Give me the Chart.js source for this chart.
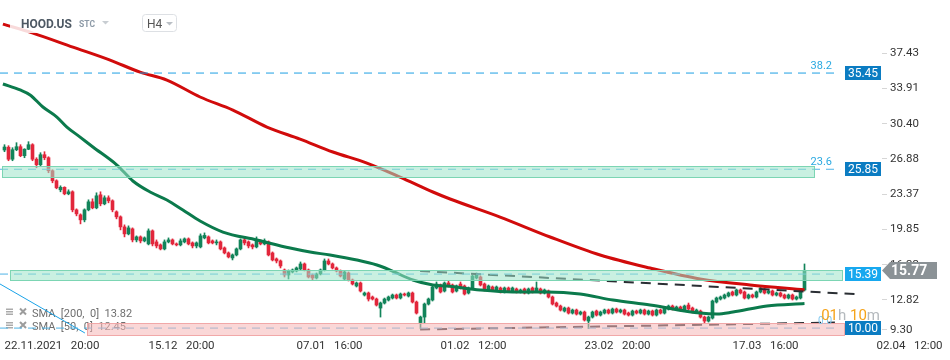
<!DOCTYPE html>
<html><head><meta charset="utf-8">
<script src="https://cdn.jsdelivr.net/npm/chart.js@4.4.1/dist/chart.umd.min.js"></script>
<style>html,body{margin:0;padding:0;background:#fff;}canvas{display:block;}</style>
</head><body>
<canvas id="c" width="950" height="360"></canvas>
<script>
// ---- data (H4 candles, one per index) ----
const opens = [
27.77,28.05,26.85,27.8,28.1,27.2,27.85,28.3,26.85,26.3,
27.3,27.0,25.7,24.7,23.8,24.05,23.4,23.6,21.8,21.3,
20.8,21.8,22.6,22.0,23.3,22.4,23.0,22.7,21.6,21.1,
20.1,19.4,19.9,18.8,19.1,18.7,18.4,19.7,18.6,18.3,
17.9,18.6,18.8,18.4,18.3,18.6,18.9,18.5,18.2,18.1,
19.0,19.1,18.7,18.5,18.6,18.0,17.5,17.0,17.3,17.9,
18.8,18.6,18.3,18.1,18.7,18.4,18.6,17.5,16.9,16.7,
15.8,15.3,15.6,15.7,15.9,16.4,15.8,15.3,15.0,15.4,
15.8,16.7,16.4,16.0,15.7,14.9,15.5,14.8,14.2,14.5,
13.3,13.5,13.1,12.9,12.0,12.5,12.8,13.0,13.3,13.0,
13.4,13.2,13.5,12.6,10.55,11.1,12.4,12.8,14.0,14.3,
13.7,14.5,14.3,13.7,14.4,14.2,13.5,14.0,15.0,15.1,
14.4,13.8,14.1,13.8,14.0,13.6,14.0,13.7,13.9,13.6,
13.9,13.5,14.0,13.7,13.9,13.5,13.7,13.1,12.5,12.2,
11.7,12.0,11.5,11.8,11.4,11.6,10.7,11.1,11.7,11.3,
11.5,11.8,11.5,11.9,11.6,11.8,11.5,11.3,11.7,11.5,
11.8,11.4,11.7,11.3,11.8,11.5,11.9,12.2,11.9,12.1,
11.8,12.3,12.0,11.6,11.7,11.1,10.7,11.0,12.6,12.9,
13.0,13.2,13.6,13.3,13.8,13.6,13.0,13.3,13.1,13.6,
13.9,13.5,13.7,13.3,13.5,13.3,13.0,13.3,12.9,13.0,
13.8];
const highs = [
28.3,28.2,28.0,28.5,28.3,27.9,28.6,28.4,27.0,27.5,
27.6,27.1,25.8,24.8,24.2,24.1,23.8,23.7,21.9,21.4,
21.9,22.8,22.9,23.5,23.6,23.2,23.2,22.8,21.7,21.2,
20.3,20.2,20.0,19.2,19.2,19.1,19.9,19.8,18.8,18.4,
18.8,19.0,18.9,18.5,18.9,19.0,19.0,18.6,18.6,19.4,
19.5,19.2,18.8,18.8,18.7,18.1,17.6,17.4,18.0,18.9,
19.0,18.7,18.4,19.1,18.8,18.9,18.7,17.6,17.0,16.8,
15.9,15.8,15.9,16.1,16.6,16.5,15.9,15.4,15.5,15.9,
16.9,16.9,16.5,16.1,15.8,15.7,15.6,14.9,14.6,14.6,
13.6,13.6,13.2,13.0,12.6,13.0,13.2,13.4,13.4,13.5,
13.5,13.6,13.6,12.7,11.2,12.5,13.0,14.2,14.6,14.4,
14.6,14.7,14.4,14.3,14.6,14.3,14.1,15.3,15.5,15.2,
14.5,14.3,14.2,14.2,14.1,14.1,14.1,14.1,14.0,13.9,
14.0,14.0,14.1,14.6,14.0,13.9,13.8,13.2,12.6,12.3,
12.1,12.1,11.9,11.9,11.7,11.7,11.2,11.7,11.8,11.7,
11.9,11.9,12.0,12.0,11.9,11.9,11.6,11.8,11.8,11.9,
11.9,11.8,11.8,11.9,11.9,12.1,12.3,12.3,12.2,12.2,
12.3,12.5,12.1,11.9,11.8,11.2,11.2,12.8,13.1,13.2,
13.4,13.6,13.7,13.9,13.9,13.7,13.4,13.4,13.7,14.2,
14.0,13.8,13.8,13.6,13.6,13.4,13.4,13.4,13.2,13.9,
16.4];
const lows = [
27.6,26.7,26.7,27.7,27.1,27.0,27.8,26.7,26.0,26.2,
26.8,25.5,24.5,23.9,23.6,23.3,23.3,21.6,21.2,20.4,
20.6,21.7,21.9,21.9,22.2,22.3,22.5,21.6,20.9,19.8,
19.1,19.3,18.6,18.6,18.5,18.6,18.3,18.2,18.0,17.8,
17.8,18.5,18.3,18.2,18.2,18.5,18.3,18.0,18.0,18.0,
18.9,18.4,18.4,18.3,17.8,17.4,17.0,16.8,17.2,17.8,
18.3,18.0,17.9,18.0,18.3,18.3,17.2,16.7,16.5,16.0,
15.1,14.9,15.5,15.6,15.8,15.7,15.0,14.8,14.9,15.3,
15.7,16.3,15.9,15.6,15.1,14.8,14.7,14.3,14.1,13.6,
13.2,12.7,12.8,12.2,11.1,12.4,12.7,12.9,12.9,12.9,
13.2,13.1,12.5,11.4,9.95,10.5,12.3,12.7,13.9,13.5,
13.6,14.1,13.5,13.6,13.9,13.3,13.4,13.9,14.9,14.2,
13.7,13.7,13.7,13.7,13.5,13.5,13.6,13.6,13.5,13.5,
13.4,13.4,13.5,13.6,13.4,13.4,13.0,12.3,12.1,11.7,
11.6,11.4,11.4,11.3,11.3,10.7,9.95,11.0,11.2,11.2,
11.4,11.4,11.4,11.5,11.5,11.3,11.2,11.2,11.4,11.4,
11.3,11.3,11.2,11.2,11.4,11.4,11.8,11.8,11.8,11.7,
11.7,11.8,11.5,11.5,11.0,10.5,10.6,10.9,12.5,12.8,
12.9,13.1,13.2,13.2,13.4,12.9,12.9,13.0,13.0,13.5,
13.4,13.4,13.2,13.2,13.1,12.9,12.9,12.8,12.8,12.9,
13.7];
const closes = [
28.07,26.85,27.8,28.1,27.2,27.85,28.3,26.85,26.3,27.3,
27.0,25.7,24.7,24.0,24.05,23.4,23.6,21.8,21.4,20.8,
21.8,22.6,22.0,23.2,22.4,23.0,22.7,21.8,21.1,20.1,
19.4,20.0,18.8,19.1,18.7,19.0,19.7,18.4,18.2,17.9,
18.6,18.8,18.4,18.3,18.7,18.9,18.4,18.2,18.5,19.2,
19.25,18.5,18.5,18.6,17.9,17.5,17.1,17.3,17.9,18.8,
18.5,18.2,18.1,18.8,18.4,18.7,17.3,16.8,16.7,16.2,
15.3,15.7,15.8,16.0,16.4,15.8,15.1,15.0,15.4,15.8,
16.7,16.4,16.0,15.7,15.2,15.6,14.8,14.4,14.5,13.7,
13.5,12.9,12.9,12.3,12.5,12.9,13.1,13.3,13.0,13.4,
13.3,13.5,12.6,11.5,11.1,12.4,12.9,14.1,14.4,13.6,
14.5,14.2,13.6,14.2,14.0,13.4,14.0,15.2,15.3,14.3,
13.8,14.2,13.8,14.1,13.6,14.0,13.7,14.0,13.6,13.8,
13.5,13.9,13.6,14.0,13.5,13.8,13.1,12.4,12.2,11.8,
12.0,11.5,11.8,11.4,11.6,10.8,11.1,11.6,11.3,11.6,
11.8,11.5,11.9,11.6,11.8,11.4,11.3,11.7,11.5,11.8,
11.4,11.7,11.3,11.8,11.5,12.0,12.2,11.9,12.1,11.8,
12.2,11.9,11.6,11.8,11.1,10.7,11.1,12.7,13.0,13.1,
13.3,13.5,13.3,13.8,13.5,13.0,13.3,13.1,13.6,14.0,
13.5,13.7,13.3,13.5,13.2,13.0,13.3,12.9,13.1,13.8,
15.77];

const sma200Idx = [-0.4,7.1,17.1,26.4,33.9,40.6,48.9,57.1,65.6,73.9,82.1,90.6,98.9,107.1,111.4,123.9,136.4,148.9,161.4,173.9,186.4,200];
const sma200Val = [40.33,39.44,38.04,36.74,35.54,34.75,33.06,31.76,30.06,28.86,27.57,26.47,25.07,23.58,22.88,21.08,19.09,17.29,15.99,14.9,14.3,13.82];
const sma50Idx = [-0.4,3.9,6.4,9.6,13.1,15.6,18.9,22.1,28.1,32.1,36.4,40.6,44.6,48.9,54.6,63.1,71.4,76.4,81.4,88.1,93.1,96.4,102.1,107.1,110.6,118.9,127.1,135.6,143.9,152.1,161.4,173.9,178.1,182.1,190.6,200];
const sma50Val = [34.36,33.76,33.26,32.06,31.06,30.06,29.06,28.07,26.27,24.68,23.58,22.78,21.78,20.68,19.58,18.79,17.99,17.59,17.29,16.79,16.29,15.79,14.8,14.3,14.2,13.8,13.6,13.6,13.4,12.8,12.3,11.5,11.4,11.6,12.2,12.45];

const xTickIdx = [0,36,73,109,145,182,218];
const xTickLabels = ['22.11.2021   20:00','15.12   20:00','07.01   16:00','01.02   12:00','23.02   20:00','17.03   16:00','02.04   12:00'];
const yTickLabels = ['9.30','12.82','16.33','19.85','23.37','26.88','30.40','33.91','37.43'];

const levelVals = [35.45, 25.85, 15.39, 10.00];
const levelFib = ['38.2', '23.6', '', '0.0'];
const bandLo = [null, 24.97, 14.70, 9.20];
const bandHi = [null, 26.17, 15.80, 10.50];
const lastPrice = 15.77;
const legendNames = ['SMA  [200,  0]', 'SMA  [50,  0]'];
const legendVals = ['13.82', '12.45'];
const trendUpIdx = [103.9, 213.4], trendUpVal = [15.69, 13.37];
const trendLoIdx = [103.9, 207.6], trendLoVal = [9.86, 10.55];
const fibLineIdx = [-1.125, 20.1], fibLineVal = [14.4, 9.51];

// ---- styling / layout (not data) ----
const GREEN = '#12845a', RED = '#e2263b';
const levelEnd = 208.9;
const levelColors = ['#1e9fe3', '#4fb4e6', '#4fb4e6', '#4fb4e6'];
const boxColors = ['#0b7cc2', '#0b7cc2', '#17a8ef', '#0b7cc2'];
const bandCfg = [null,
  {from: -0.6, to: 202.6, fill: 'rgba(157,228,200,0.55)', stroke: 'rgba(120,212,176,0.95)'},
  {from: 1.4, to: 209.6, fill: 'rgba(157,228,200,0.55)', stroke: 'rgba(120,212,176,0.95)'},
  {from: 20.6, to: 210.1, fill: 'rgba(246,182,182,0.55)', stroke: 'rgba(240,165,165,0.95)'}];

const idx = opens.map((_, i) => i);
const candleColors = idx.map(i => closes[i] >= opens[i] ? GREEN : RED);
const FONT = 'Roboto';
Chart.defaults.font.family = FONT;

const datasets = [
  {type: 'bar', data: idx.map(i => ({x: i, y: [lows[i], highs[i]]})), backgroundColor: candleColors,
   barThickness: 1, grouped: false, borderWidth: 0, order: 9},
  {type: 'bar', data: idx.map(i => ({x: i, y: [opens[i], closes[i]]})), backgroundColor: candleColors,
   barThickness: 3, minBarLength: 1, grouped: false, borderWidth: 0, order: 8},
  {type: 'line', data: sma200Idx.map((v, k) => ({x: v, y: sma200Val[k]})), borderColor: '#d10b0b', borderWidth: 3,
   pointRadius: 0, cubicInterpolationMode: 'monotone', order: 4},
  {type: 'line', data: sma50Idx.map((v, k) => ({x: v, y: sma50Val[k]})), borderColor: '#0b7a4c', borderWidth: 3,
   pointRadius: 0, cubicInterpolationMode: 'monotone', order: 3},
  {type: 'line', data: trendUpIdx.map((v, k) => ({x: v, y: trendUpVal[k]})), borderColor: '#2a2e33', borderWidth: 2,
   borderDash: [10, 7], pointRadius: 0, order: 2},
  {type: 'line', data: trendLoIdx.map((v, k) => ({x: v, y: trendLoVal[k]})), borderColor: '#2a2e33', borderWidth: 2,
   borderDash: [10, 7], pointRadius: 0, order: 2},
  {type: 'line', data: fibLineIdx.map((v, k) => ({x: v, y: fibLineVal[k]})), borderColor: '#1aa3e8', borderWidth: 1,
   pointRadius: 0, order: 2}
];
levelVals.forEach((v, k) => {
  datasets.push({type: 'line', data: [{x: -1.125, y: v}, {x: levelEnd, y: v}], borderColor: levelColors[k],
    borderWidth: 1, borderDash: [8, 6], pointRadius: 0, order: 1});
});

const overlay = {
  id: 'overlay',
  beforeDatasetsDraw(chart) {
    const ctx = chart.ctx;
    ctx.save();
    const rows = [316.5, 330];
    rows.forEach((by, r) => {
      ctx.fillStyle = '#ababab';
      for (let k = 0; k < 3; k++) ctx.fillRect(6, by - 8 + k * 2.5, 7, 1.5);
      ctx.strokeStyle = '#9c9c9c'; ctx.lineWidth = 2;
      ctx.beginPath(); ctx.moveTo(20, by - 8); ctx.lineTo(26, by - 2); ctx.moveTo(26, by - 8); ctx.lineTo(20, by - 2); ctx.stroke();
      ctx.font = '11px ' + FONT; ctx.fillStyle = '#6e6e6e'; ctx.textBaseline = 'alphabetic'; ctx.textAlign = 'left';
      ctx.fillText(legendNames[r] + '  ' + legendVals[r], 32, by);
    });
    ctx.restore();
  },
  afterDatasetsDraw(chart) {
    const {ctx, chartArea, scales: {x, y}} = chart;
    ctx.save();
    // zones (drawn over the candles, translucent)
    bandCfg.forEach((b, k) => {
      if (!b) return;
      const x1 = Math.round(x.getPixelForValue(b.from)), x2 = Math.round(x.getPixelForValue(b.to));
      const y1 = Math.round(y.getPixelForValue(bandHi[k])), y2 = Math.round(y.getPixelForValue(bandLo[k]));
      ctx.fillStyle = b.fill; ctx.fillRect(x1, y1, x2 - x1, y2 - y1);
      ctx.strokeStyle = b.stroke; ctx.lineWidth = 1; ctx.strokeRect(x1 + 0.5, y1 + 0.5, x2 - x1 - 1, y2 - y1 - 1);
    });
    // header
    ctx.fillStyle = 'rgba(255,255,255,0.85)'; ctx.fillRect(10, 13, 110, 20);
    ctx.textAlign = 'left'; ctx.textBaseline = 'alphabetic';
    ctx.font = 'bold 12px ' + FONT; ctx.fillStyle = '#4d5863'; ctx.fillText('HOOD.US', 21, 27.5);
    ctx.font = 'bold 8.5px ' + FONT; ctx.fillStyle = '#8d9aa7'; ctx.fillText('STC', 79, 27);
    ctx.fillStyle = '#c8cdd2'; ctx.beginPath(); ctx.moveTo(102, 21); ctx.lineTo(109, 21); ctx.lineTo(105.5, 24.5); ctx.fill();
    ctx.fillStyle = '#fff'; ctx.strokeStyle = '#dde0e4'; ctx.lineWidth = 1;
    ctx.beginPath(); ctx.roundRect(142.5, 14.5, 34, 17, 3); ctx.fill(); ctx.stroke();
    ctx.font = '12px ' + FONT; ctx.fillStyle = '#555'; ctx.fillText('H4', 147, 27.5);
    ctx.fillStyle = '#babfc5'; ctx.beginPath(); ctx.moveTo(166, 22); ctx.lineTo(173, 22); ctx.lineTo(169.5, 25.5); ctx.fill();
    // fib texts and price boxes
    const R = chartArea.right;
    levelVals.forEach((v, k) => {
      const py = y.getPixelForValue(v);
      if (levelFib[k]) {
        ctx.font = (k === 3 ? '10px ' : '11px ') + FONT; ctx.fillStyle = k === 3 ? '#7cc6ee' : '#2aa9e1';
        ctx.textAlign = 'right'; ctx.textBaseline = 'alphabetic';
        ctx.fillText(levelFib[k], R - 50, py - 4);
      }
      ctx.fillStyle = boxColors[k]; ctx.fillRect(R - 37, Math.round(py) - 7, 36, 14);
      ctx.font = '12px ' + FONT; ctx.fillStyle = '#fff'; ctx.textAlign = 'center'; ctx.textBaseline = 'middle';
      ctx.fillText(v.toFixed(2), R - 19, Math.round(py) + 0.5);
    });
    // countdown
    const parts = [['01', '#f5a31a'], ['h', '#b4b9bd'], [' 10', '#f5a31a'], ['m', '#b4b9bd']];
    ctx.font = '15px ' + FONT; ctx.textAlign = 'left'; ctx.textBaseline = 'alphabetic';
    let tw = parts.reduce((s, p) => s + ctx.measureText(p[0]).width, 0);
    let cx = R - 2 - tw;
    parts.forEach(p => { ctx.fillStyle = p[1]; ctx.fillText(p[0], cx, 320); cx += ctx.measureText(p[0]).width; });
    // last price marker
    const ly = Math.round(y.getPixelForValue(lastPrice)) + 0.5;
    ctx.fillStyle = '#8b9296';
    ctx.beginPath(); ctx.moveTo(R, ly); ctx.lineTo(R + 8, ly - 8.5); ctx.lineTo(937, ly - 8.5); ctx.lineTo(937, ly + 8.5);
    ctx.lineTo(R + 8, ly + 8.5); ctx.closePath(); ctx.fill();
    ctx.font = 'bold 14px ' + FONT; ctx.fillStyle = '#fff'; ctx.textAlign = 'left'; ctx.textBaseline = 'middle';
    ctx.fillText(lastPrice.toFixed(2), R + 9, ly + 0.5);
    ctx.restore();
  }
};

new Chart(document.getElementById('c'), {
  type: 'bar',
  data: {datasets},
  options: {
    responsive: false, animation: false, devicePixelRatio: 1,
    layout: {padding: 0},
    plugins: {legend: {display: false}, tooltip: {enabled: false}},
    scales: {
      x: {
        type: 'linear', min: -1.125, max: 219.375, offset: false,
        afterBuildTicks: s => { s.ticks = xTickIdx.map(v => ({value: v})); },
        afterFit: s => { s.height = 24; s.paddingLeft = 0; s.paddingRight = 0; },
        grid: {display: false, drawTicks: false}, border: {display: false},
        ticks: {align: 'start', maxRotation: 0, minRotation: 0, autoSkip: false, padding: 3, color: '#333',
                font: {family: FONT, size: 11.5}, callback: (v, i) => xTickLabels[i]}
      },
      y: {
        type: 'linear', position: 'right', min: 9.21, max: 42.74,
        afterBuildTicks: s => { s.ticks = yTickLabels.map(t => ({value: Math.max(parseFloat(t), s.min + 0.6)})); },
        afterFit: s => { s.width = 68; s.paddingTop = 0; s.paddingBottom = 0; },
        grid: {drawOnChartArea: false, drawTicks: true, tickLength: 5, color: '#d6d6d6'},
        border: {display: false},
        ticks: {padding: 3, color: '#333', autoSkip: false, font: {family: FONT, size: 11.5},
                callback: (v, i) => yTickLabels[i]}
      }
    }
  },
  plugins: [overlay]
});
</script>
</body></html>
